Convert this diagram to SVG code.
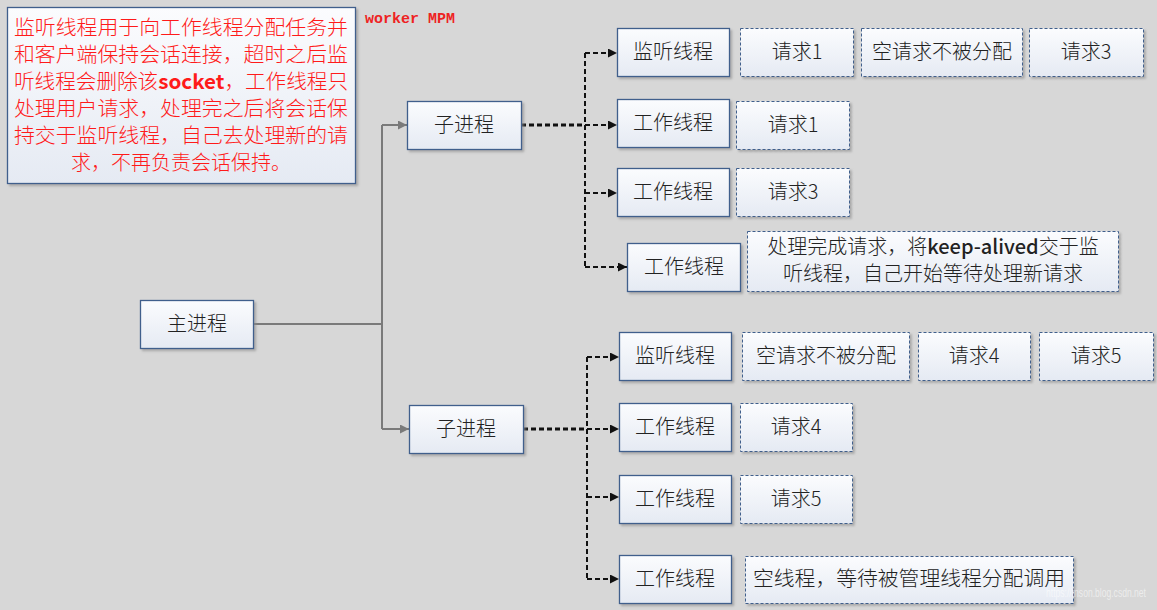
<svg xmlns="http://www.w3.org/2000/svg" width="1157" height="610" viewBox="0 0 1157 610">
  <defs>
    <linearGradient id="boxFill" x1="0" y1="0" x2="0" y2="1">
      <stop offset="0" stop-color="#fbfcfe"/>
      <stop offset="1" stop-color="#e5eaf3"/>
    </linearGradient>
    <filter id="shadow" x="-10%" y="-10%" width="130%" height="140%">
      <feDropShadow dx="2" dy="2" stdDeviation="1" flood-color="#8a8a8a" flood-opacity="0.6"/>
    </filter>
    <marker id="arrowBlack" viewBox="0 0 9 9" refX="9" refY="4.5" markerWidth="9" markerHeight="9" markerUnits="userSpaceOnUse" orient="auto">
      <path d="M0,0 L9,4.5 L0,9 z" fill="#111"/>
    </marker>
    <marker id="arrowGray" viewBox="0 0 9 9" refX="9" refY="4.5" markerWidth="9" markerHeight="9" markerUnits="userSpaceOnUse" orient="auto">
      <path d="M0,0 L9,4.5 L0,9 z" fill="#7a7a7a"/>
    </marker>
  </defs>
  <style>
    .bg { fill: #d7d7d7; }
    .node rect { fill: url(#boxFill); filter: url(#shadow); }
    .solid rect { stroke: #3f5f8c; stroke-width: 1.3; }
    .dash rect { stroke: #3f5f8c; stroke-width: 1; stroke-dasharray: 3 2; }
    .node text { font-family: "Noto Sans CJK SC", "Noto Sans", sans-serif; font-size: 20px; font-weight: 300; fill: #222; text-anchor: middle; }
    .note rect { fill: url(#boxFill); stroke: #3f5f8c; stroke-width: 1.3; filter: url(#shadow); }
    .note text { font-family: "Noto Sans CJK SC", "Noto Sans", sans-serif; font-size: 20px; font-weight: 300; fill: #ff1a1a; text-anchor: middle; }
    .title { font-family: "Liberation Mono", "DejaVu Sans Mono", monospace; font-size: 14px; font-weight: bold; fill: #ee2222; }
    .gray { fill: none; stroke: #7a7a7a; stroke-width: 2; }
    .dot { fill: none; stroke: #111; stroke-width: 2; stroke-dasharray: 5 3; }
    .dot.thick { stroke-width: 3; }
    .mark { font-family: "Liberation Sans", sans-serif; font-size: 13px; fill: #ffffff; fill-opacity: 0.55; }
  </style>

  <rect class="bg" x="0" y="0" width="1157" height="610"/>

  <!-- explanatory note -->
  <g id="note" class="note">
    <rect x="7.5" y="7.5" width="348" height="176"/>
    <text x="181" y="35" textLength="334" lengthAdjust="spacingAndGlyphs">监听线程用于向工作线程分配任务并</text>
    <text x="181" y="62" textLength="334" lengthAdjust="spacingAndGlyphs">和客户端保持会话连接，超时之后监</text>
    <text x="181" y="89" textLength="334" lengthAdjust="spacingAndGlyphs">听线程会删除该<tspan font-weight="bold">socket</tspan>，工作线程只</text>
    <text x="181" y="116" textLength="334" lengthAdjust="spacingAndGlyphs">处理用户请求，处理完之后将会话保</text>
    <text x="181" y="143" textLength="334" lengthAdjust="spacingAndGlyphs">持交于监听线程，自己去处理新的请</text>
    <text x="181" y="170">求，不再负责会话保持。</text>
  </g>

  <text id="title" class="title" x="365" y="23" textLength="90" lengthAdjust="spacingAndGlyphs">worker MPM</text>

  <!-- connectors -->
  <g id="connectors">
    <path class="gray" d="M253,324 H382"/>
    <path class="gray" d="M382,125 V429"/>
    <path class="gray" d="M382,125 H407" marker-end="url(#arrowGray)"/>
    <path class="gray" d="M382,429 H409" marker-end="url(#arrowGray)"/>

    <path class="dot thick" d="M521,125 H585"/>
    <path class="dot" d="M585,53 V267"/>
    <path class="dot" d="M585,53 H617" marker-end="url(#arrowBlack)"/>
    <path class="dot" d="M585,125 H617" marker-end="url(#arrowBlack)"/>
    <path class="dot" d="M585,193 H617" marker-end="url(#arrowBlack)"/>
    <path class="dot" d="M585,267 H627" marker-end="url(#arrowBlack)"/>

    <path class="dot thick" d="M523,429 H587"/>
    <path class="dot" d="M587,357 V579"/>
    <path class="dot" d="M587,357 H619" marker-end="url(#arrowBlack)"/>
    <path class="dot" d="M587,429 H619" marker-end="url(#arrowBlack)"/>
    <path class="dot" d="M587,497 H619" marker-end="url(#arrowBlack)"/>
    <path class="dot" d="M587,579 H619" marker-end="url(#arrowBlack)"/>
  </g>

  <!-- process nodes -->
  <g id="main" class="node solid"><rect x="140.5" y="300.5" width="113" height="48"/><text x="197" y="331">主进程</text></g>
  <g id="child1" class="node solid"><rect x="407.5" y="101.5" width="114" height="48"/><text x="464" y="132">子进程</text></g>
  <g id="child2" class="node solid"><rect x="409.5" y="405.5" width="114" height="48"/><text x="466" y="436">子进程</text></g>

  <!-- threads of the first child -->
  <g id="c1-listener" class="node solid"><rect x="617.5" y="28.5" width="112" height="48"/><text x="673" y="59">监听线程</text></g>
  <g id="c1-req1" class="node dash"><rect x="740.5" y="28.5" width="113" height="48"/><text x="797" y="59">请求1</text></g>
  <g id="c1-empty" class="node dash"><rect x="861.5" y="28.5" width="161" height="48"/><text x="942" y="59">空请求不被分配</text></g>
  <g id="c1-req3" class="node dash"><rect x="1029.5" y="28.5" width="114" height="48"/><text x="1086" y="59">请求3</text></g>

  <g id="c1-worker1" class="node solid"><rect x="617.5" y="99.5" width="112" height="48"/><text x="673" y="130">工作线程</text></g>
  <g id="c1-w1-req1" class="node dash"><rect x="736.5" y="101.5" width="113" height="48"/><text x="793" y="132">请求1</text></g>

  <g id="c1-worker2" class="node solid"><rect x="617.5" y="168.5" width="112" height="48"/><text x="673" y="199">工作线程</text></g>
  <g id="c1-w2-req3" class="node dash"><rect x="736.5" y="168.5" width="113" height="48"/><text x="793" y="199">请求3</text></g>

  <g id="c1-worker3" class="node solid"><rect x="627.5" y="243.5" width="113" height="48"/><text x="684" y="274">工作线程</text></g>
  <g id="c1-w3-done" class="node dash"><rect x="747.5" y="231.5" width="371" height="60"/>
    <text x="933" y="254">处理完成请求，将<tspan font-weight="500">keep-alived</tspan>交于监</text>
    <text x="933" y="281">听线程，自己开始等待处理新请求</text>
  </g>

  <!-- threads of the second child -->
  <g id="c2-listener" class="node solid"><rect x="619.5" y="332.5" width="112" height="48"/><text x="675" y="363">监听线程</text></g>
  <g id="c2-empty" class="node dash"><rect x="742.5" y="332.5" width="167" height="48"/><text x="826" y="363">空请求不被分配</text></g>
  <g id="c2-req4" class="node dash"><rect x="918.5" y="332.5" width="112" height="48"/><text x="974" y="363">请求4</text></g>
  <g id="c2-req5" class="node dash"><rect x="1039.5" y="332.5" width="114" height="48"/><text x="1096" y="363">请求5</text></g>

  <g id="c2-worker1" class="node solid"><rect x="619.5" y="403.5" width="112" height="48"/><text x="675" y="434">工作线程</text></g>
  <g id="c2-w1-req4" class="node dash"><rect x="740.5" y="403.5" width="112" height="48"/><text x="796" y="434">请求4</text></g>

  <g id="c2-worker2" class="node solid"><rect x="619.5" y="475.5" width="112" height="48"/><text x="675" y="506">工作线程</text></g>
  <g id="c2-w2-req5" class="node dash"><rect x="740.5" y="475.5" width="112" height="48"/><text x="796" y="506">请求5</text></g>

  <g id="c2-worker3" class="node solid"><rect x="619.5" y="555.5" width="112" height="48"/><text x="675" y="586">工作线程</text></g>
  <g id="c2-w3-idle" class="node dash"><rect x="745.5" y="556.5" width="328" height="47"/><text x="909" y="586" textLength="312" lengthAdjust="spacingAndGlyphs">空线程，等待被管理线程分配调用</text></g>

  <text class="mark" x="1046" y="597" textLength="100" lengthAdjust="spacingAndGlyphs">https://tnson.blog.csdn.net</text>
</svg>
